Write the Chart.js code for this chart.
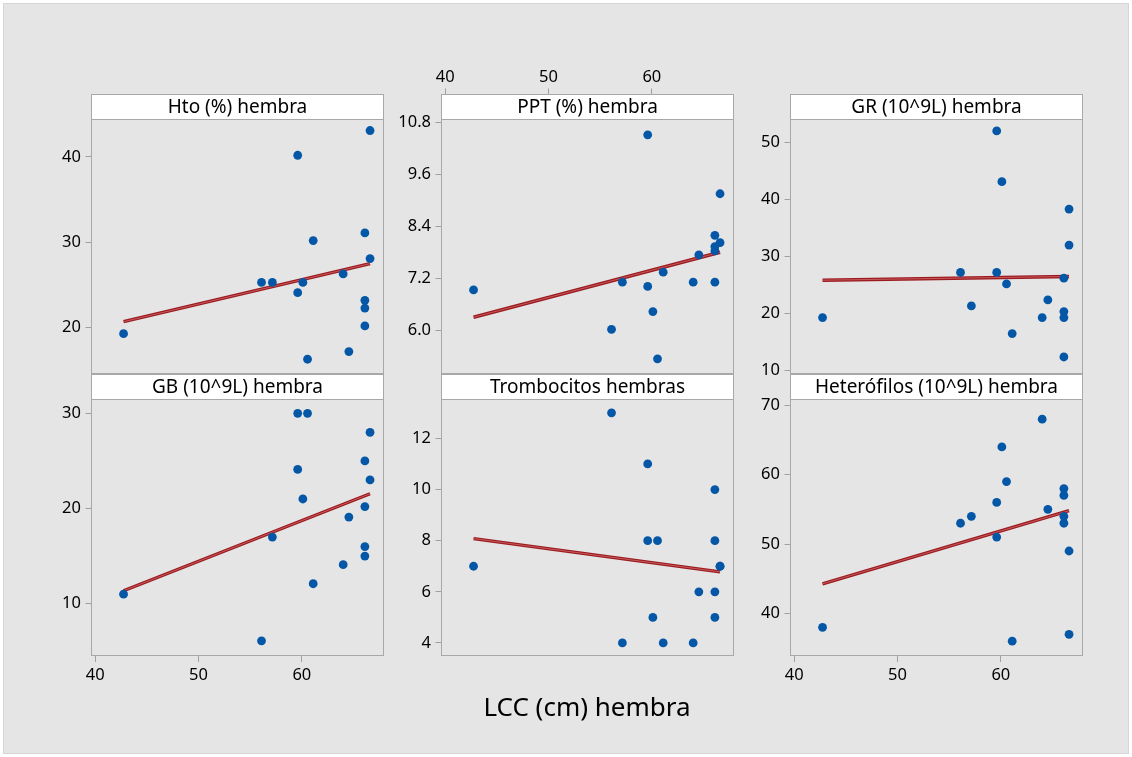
<!DOCTYPE html>
<html>
<head>
<meta charset="utf-8">
<script src="https://cdn.jsdelivr.net/npm/chart.js@4.4.1/dist/chart.umd.min.js"></script>
<style>
  body { margin: 0; background: #fff; font-family: "Noto Sans", sans-serif; }
  #frame { position: absolute; left: 3px; top: 3px; width: 1126px; height: 751px;
           background: #e5e5e5; border: 1px solid #d6d6d6; box-sizing: border-box; }
  canvas { position: absolute; }
  .head { position: absolute; background: #fff; border: 1px solid #a8a8a8; box-sizing: border-box;
          text-align: center; font-size: 19px; line-height: 23px; color: #000; z-index: 5; }
  #xtitle { position: absolute; left: 387px; width: 400px; top: 688px; text-align: center;
            font-size: 26px; color: #000; z-index: 5; }
</style>
</head>
<body>
<div id="frame"></div>
<div id="xtitle">LCC (cm) hembra</div>

<script>
// ---- Data ----
const lcc = [42.75, 56.1, 57.15, 59.6, 59.6, 60.1, 60.55, 61.1, 64.0, 64.55, 66.1, 66.1, 66.1, 66.1, 66.6, 66.6];

const htoValues    = [19.3, 25.3, 25.3, 40.2, 24.1, 25.3, 16.3, 30.2, 26.3, 17.2, 31.1, 23.2, 22.3, 20.2, 43.1, 28.1];
const pptValues    = [6.94, 6.03, 7.12, 10.52, 7.02, 6.44, 5.35, 7.35, 7.12, 7.75, 8.2, 7.94, 7.84, 7.12, 9.16, 8.03];
const grValues     = [19.3, 27.2, 21.35, 52.0, 27.2, 43.1, 25.2, 16.5, 19.3, 22.4, 26.2, 20.35, 19.3, 12.4, 38.3, 32.0];
const gbValues     = [11.0, 6.1, 17.0, 30.0, 24.1, 21.0, 30.0, 12.1, 14.1, 19.1, 25.0, 20.2, 16.0, 15.0, 28.0, 23.0];
const tromboValues = [7, 13, 4, 11, 8, 5, 8, 4, 4, 6, 10, 8, 6, 5, 7, 7];
const heteroValues = [38, 53, 54, 56, 51, 64, 59, 36, 68, 55, 58, 57, 54, 53, 49, 37];

// fitted line, y at the two ends of fitRange
const fitRange  = [42.75, 66.6];
const htoFit    = [20.7, 27.5];
const pptFit    = [6.31, 7.81];
const grFit     = [25.85, 26.5];
const gbFit     = [11.36, 21.55];
const tromboFit = [8.08, 6.78];
const heteroFit = [44.27, 54.8];

const xTicks      = [40, 50, 60];
const htoTicks    = [20, 30, 40];
const pptTicks    = [6.0, 7.2, 8.4, 9.6, 10.8];
const pptLabels   = ["6.0", "7.2", "8.4", "9.6", "10.8"];
const grTicks     = [10, 20, 30, 40, 50];
const gbTicks     = [10, 20, 30];
const tromboTicks = [4, 6, 8, 10, 12];
const heteroTicks = [40, 50, 60, 70];

// ---- Layout ----
const colLeft = [91, 441, 790];
const panelW = 293;
const TOP = 60, BOTTOM = 40;
const rows = [
  { headTop: 94, plotTop: 119, plotBot: 374 },
  { headTop: 374, plotTop: 399, plotBot: 656 }
];
const FONT = "'Noto Sans', sans-serif";

const panels = [
  { title: "Hto (%) hembra", col: 0, row: 0, values: htoValues, fit: htoFit, ticks: htoTicks, ymin: 14.57, ymax: 44.45, xPos: "none" },
  { title: "PPT (%) hembra", col: 1, row: 0, values: pptValues, fit: pptFit, ticks: pptTicks, labels: pptLabels, ymin: 5.0, ymax: 10.885, xPos: "top" },
  { title: "GR (10^9L) hembra", col: 2, row: 0, values: grValues, fit: grFit, ticks: grTicks, ymin: 9.42, ymax: 54.08, xPos: "none" },
  { title: "GB (10^9L) hembra", col: 0, row: 1, values: gbValues, fit: gbFit, ticks: gbTicks, ymin: 4.51, ymax: 31.5, xPos: "bottom" },
  { title: "Trombocitos hembras", col: 1, row: 1, values: tromboValues, fit: tromboFit, ticks: tromboTicks, ymin: 3.49, ymax: 13.54, xPos: "none" },
  { title: "Heterófilos (10^9L) hembra", col: 2, row: 1, values: heteroValues, fit: heteroFit, ticks: heteroTicks, ymin: 33.87, ymax: 70.9, xPos: "bottom" }
];

// plot frame
const framePlugin = {
  id: "frame",
  afterDraw(chart) {
    const a = chart.chartArea, ctx = chart.ctx;
    ctx.save();
    ctx.strokeStyle = "#a8a8a8";
    ctx.lineWidth = 1;
    ctx.strokeRect(a.left + 0.5, a.top + 0.5, a.right - a.left - 1, a.bottom - a.top - 1);
    ctx.restore();
  }
};

panels.forEach(p => {
  const r = rows[p.row];
  const left = colLeft[p.col];
  const plotH = r.plotBot - r.plotTop;

  const head = document.createElement("div");
  head.className = "head";
  head.style.left = left + "px";
  head.style.top = r.headTop + "px";
  head.style.width = panelW + "px";
  head.style.height = (r.plotTop - r.headTop + 1) + "px";
  head.textContent = p.title;
  document.body.appendChild(head);

  const canvas = document.createElement("canvas");
  canvas.width = panelW + 65;
  canvas.height = plotH + TOP + BOTTOM;
  canvas.style.left = (left - 60) + "px";
  canvas.style.top = (r.plotTop - TOP) + "px";
  document.body.appendChild(canvas);

  const tickLabels = p.labels || p.ticks.map(String);
  const fitPts = [{ x: fitRange[0], y: p.fit[0] }, { x: fitRange[1], y: p.fit[1] }];

  new Chart(canvas.getContext("2d"), {
    type: "scatter",
    data: {
      datasets: [
        {
          data: lcc.map((x, i) => ({ x: x, y: p.values[i] })),
          backgroundColor: "#0457a6",
          borderWidth: 0,
          pointRadius: 4.4
        },
        { data: fitPts, showLine: true, borderColor: "#c45a5c", borderWidth: 1, pointRadius: 0 },
        { data: fitPts, showLine: true, borderColor: "#9c1a1f", borderWidth: 3.4, pointRadius: 0 }
      ]
    },
    options: {
      responsive: false,
      animation: false,
      layout: {
        padding: {
          left: 0, right: 5,
          top: p.xPos === "top" ? 0 : TOP,
          bottom: p.xPos === "bottom" ? 0 : BOTTOM
        }
      },
      plugins: { legend: { display: false }, tooltip: { enabled: false } },
      scales: {
        x: {
          type: "linear",
          display: p.xPos !== "none",
          position: p.xPos === "top" ? "top" : "bottom",
          min: 39.6, max: 67.95,
          afterBuildTicks: s => { s.ticks = xTicks.map(v => ({ value: v })); },
          afterFit: s => { s.height = p.xPos === "top" ? TOP : p.xPos === "bottom" ? BOTTOM : 0; },
          border: { display: false },
          grid: { drawOnChartArea: false, tickLength: p.xPos === "top" ? 30.5 : 6, color: "#a0a0a0" },
          ticks: { color: "#000", font: { family: FONT, size: 16.5 }, padding: p.xPos === "top" ? 1 : 3, maxRotation: 0, autoSkip: false }
        },
        y: {
          type: "linear",
          min: p.ymin, max: p.ymax,
          afterBuildTicks: s => { s.ticks = p.ticks.map(v => ({ value: v })); },
          afterFit: s => { s.width = 60; },
          border: { display: false },
          grid: { drawOnChartArea: false, tickLength: 5.5, color: "#a0a0a0" },
          ticks: {
            color: "#000", font: { family: FONT, size: 16.5 }, padding: 4.5, autoSkip: false,
            callback: (v, i) => tickLabels[i]
          }
        }
      }
    },
    plugins: [framePlugin]
  });
});
</script>
</body>
</html>
